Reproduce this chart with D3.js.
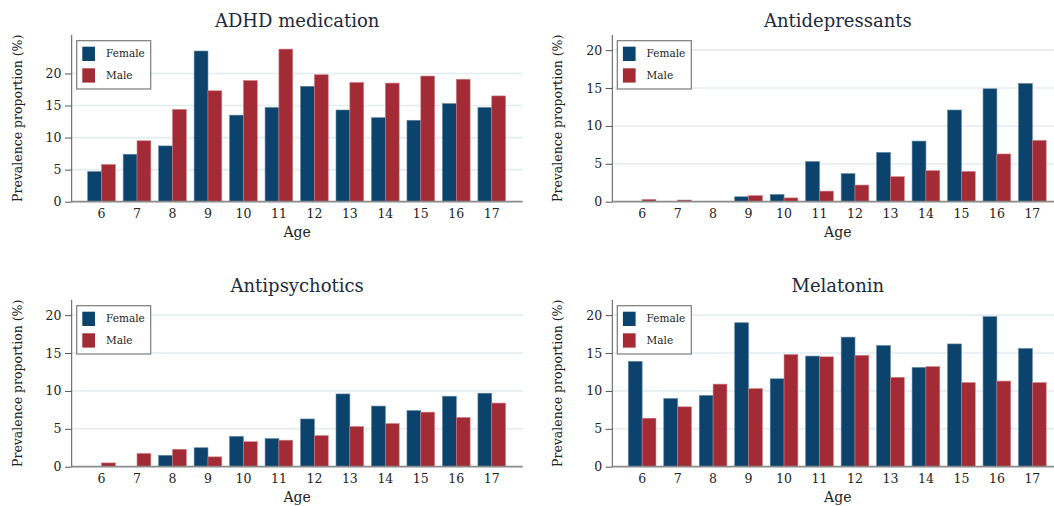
<!DOCTYPE html>
<html>
<head>
<meta charset="utf-8">
<script src="https://cdn.jsdelivr.net/npm/d3@7"></script>
<style>
  html, body { margin: 0; padding: 0; background: #fff; }
  svg { display: block; font-family: "DejaVu Serif", "Liberation Serif", serif; }
</style>
</head>
<body>
<svg id="chart" width="1054" height="506"></svg>
<script>
// ---- data ----
const ages = ["6", "7", "8", "9", "10", "11", "12", "13", "14", "15", "16", "17"];
const seriesNames = ["Female", "Male"];
const panelTitles = ["ADHD medication", "Antidepressants", "Antipsychotics", "Melatonin"];
const yTicks = [0, 5, 10, 15, 20];
const yMax = [26, 22, 22, 22];

const adhdFemale = [4.7, 7.4, 8.7, 23.5, 13.5, 14.7, 18.0, 14.3, 13.1, 12.7, 15.3, 14.7];
const adhdMale   = [5.8, 9.5, 14.4, 17.3, 18.9, 23.8, 19.8, 18.6, 18.5, 19.6, 19.1, 16.5];
const antidepFemale = [0, 0, 0, 0.65, 0.95, 5.3, 3.7, 6.5, 8.0, 12.1, 14.9, 15.6];
const antidepMale   = [0.3, 0.22, 0.03, 0.8, 0.5, 1.4, 2.2, 3.3, 4.1, 4.0, 6.3, 8.1];
const antipsyFemale = [0, 0, 1.5, 2.5, 4.0, 3.7, 6.3, 9.6, 8.0, 7.4, 9.3, 9.7];
const antipsyMale   = [0.5, 1.75, 2.3, 1.3, 3.3, 3.5, 4.1, 5.3, 5.7, 7.2, 6.5, 8.4];
const melatFemale = [13.9, 9.0, 9.4, 19.0, 11.6, 14.6, 17.1, 16.0, 13.1, 16.2, 19.8, 15.6];
const melatMale   = [6.4, 7.9, 10.9, 10.3, 14.8, 14.5, 14.7, 11.8, 13.2, 11.1, 11.3, 11.1];

const panelSeries = [
  [adhdFemale, adhdMale],
  [antidepFemale, antidepMale],
  [antipsyFemale, antipsyMale],
  [melatFemale, melatMale]
];

// ---- styling / layout ----
const colors = ["#0b436c", "#a32b35"];
const strokeColors = ["#5d84a3", "#d07f86"];
const panelOrigins = [[71.7, 35], [612.3, 35], [71.7, 300], [612.3, 300]];
const plotW = 451, plotH = 166.7;

const svg = d3.select("#chart");

panelTitles.forEach((title, pi) => {
  const [ox, oy] = panelOrigins[pi];
  const g = svg.append("g").attr("transform", `translate(${ox},${oy})`);

  const x = d3.scaleBand().domain(ages).range([12.1, 437.8]).paddingInner(0.22).paddingOuter(0.11);
  const xs = d3.scaleBand().domain(seriesNames).range([0, x.bandwidth()]);
  const y = d3.scaleLinear().domain([0, yMax[pi]]).range([plotH, 0]);

  // gridlines
  g.append("g").selectAll("line").data(yTicks.filter(t => t > 0)).join("line")
    .attr("x1", 0).attr("x2", plotW)
    .attr("y1", d => y(d)).attr("y2", d => y(d))
    .attr("stroke", "#e2edf0").attr("stroke-width", 1.6);

  // bars
  const groups = g.append("g").selectAll("g").data(ages).join("g")
    .attr("transform", d => `translate(${x(d)},0)`);
  groups.selectAll("rect").data((d, i) => seriesNames.map((s, si) => ({ s, si, v: panelSeries[pi][si][i] })))
    .join("rect")
    .attr("x", d => xs(d.s))
    .attr("width", xs.bandwidth())
    .attr("y", d => y(d.v))
    .attr("height", d => plotH - y(d.v))
    .attr("fill", d => colors[d.si])
    .attr("stroke", d => d.v > 0.05 ? strokeColors[d.si] : "none")
    .attr("stroke-width", 0.6);

  // x axis
  const xAxis = d3.axisBottom(x).tickSize(0).tickPadding(0);
  const xg = g.append("g").attr("transform", `translate(0,${plotH})`).call(xAxis);
  xg.select(".domain").remove();
  xg.selectAll("text").attr("y", 16.3).attr("dy", null)
    .attr("font-size", 12.5).attr("fill", "#222").attr("font-family", "DejaVu Serif");
  g.append("line").attr("x1", 0).attr("x2", plotW).attr("y1", plotH).attr("y2", plotH)
    .attr("stroke", "#8a8a8a").attr("stroke-width", 1.8);

  // y axis
  const yAxis = d3.axisLeft(y).tickValues(yTicks).tickSize(6.7).tickPadding(3.5);
  const yg = g.append("g").call(yAxis);
  yg.select(".domain").remove();
  yg.selectAll(".tick line").attr("stroke", "#555");
  yg.selectAll("text").attr("font-size", 12.5).attr("fill", "#222").attr("font-family", "DejaVu Serif");
  g.append("line").attr("x1", 0).attr("x2", 0).attr("y1", 0).attr("y2", plotH)
    .attr("stroke", "#555").attr("stroke-width", 1);

  // titles and axis labels
  g.append("text").attr("x", plotW / 2).attr("y", -8).attr("text-anchor", "middle")
    .attr("font-size", 18).attr("fill", "#1c2a3c").text(title);
  g.append("text").attr("x", plotW / 2).attr("y", plotH + 35.5).attr("text-anchor", "middle")
    .attr("font-size", 14).attr("fill", "#222").text("Age");
  g.append("text").attr("transform", `translate(-50,${plotH / 2}) rotate(-90)`)
    .attr("text-anchor", "middle").attr("font-size", 12.5).attr("fill", "#222")
    .text("Prevalence proportion (%)");

  // legend
  const lg = g.append("g").attr("transform", "translate(5,5.7)");
  lg.append("rect").attr("width", 74).attr("height", 48.3)
    .attr("fill", "#fff").attr("stroke", "#7a7a7a").attr("stroke-width", 1.2);
  seriesNames.forEach((s, si) => {
    lg.append("rect").attr("x", 5.6).attr("y", 6 + si * 21.6).attr("width", 12.7).attr("height", 14.3)
      .attr("fill", colors[si]);
    lg.append("text").attr("x", 29.3).attr("y", 16.6 + si * 22).attr("font-size", 10.5)
      .attr("fill", "#222").text(s);
  });
});
</script>
</body>
</html>
